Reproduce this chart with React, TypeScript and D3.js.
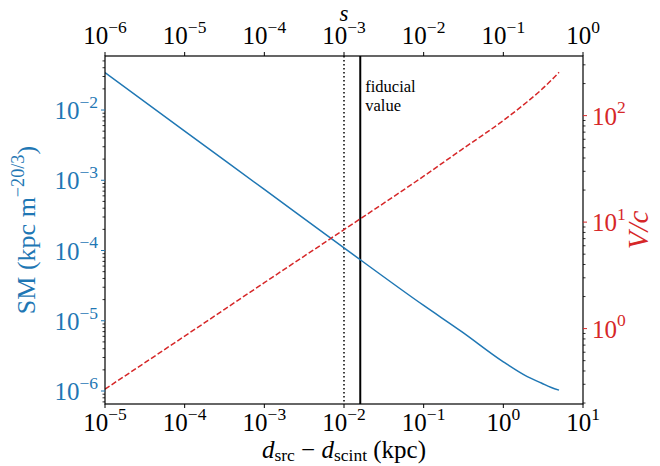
import React from 'react';
import * as d3 from 'd3';

const distances = [1e-5, 1e-4, 1e-3, 1e-2, 1e-1, 0.3, 1, 2, 3, 4, 5];
const smValues = [3.4e-2, 5.0e-3, 7.4e-4, 1.09e-4, 1.65e-5, 7.0e-6, 2.6e-6, 1.6e-6, 1.3e-6, 1.12e-6, 1.03e-6];
const velocityValues = [0.27, 0.85, 2.7, 8.5, 27, 48, 90, 135, 175, 215, 255];

const bottomExps = [-5, -4, -3, -2, -1, 0, 1];
const topExps = [-6, -5, -4, -3, -2, -1, 0];
const leftExps = [-6, -5, -4, -3, -2];
const rightExps = [0, 1, 2];

const dottedDistance = 0.01;
const fiducialDistance = 0.016;

const BLUE = '#1f77b4';
const RED = '#d62728';
const FONT = '"Liberation Serif", "DejaVu Serif", serif';

const W = 660;
const H = 466;
const margin = { left: 105, right: 77, top: 56, bottom: 62 };

const fmtExp = (e: number) => (e < 0 ? `\u2212${-e}` : `${e}`);

const Pow = ({ x, y, exp, anchor, fill, size }: any) => (
  <text x={x} y={y} textAnchor={anchor} fill={fill} fontSize={size} fontFamily={FONT}>
    10
    <tspan dy={-size * 0.45} fontSize={size * 0.7}>
      {fmtExp(exp)}
    </tspan>
  </text>
);

const minorValues = (domain: number[]) => {
  const out: number[] = [];
  const lo = Math.floor(Math.log10(domain[0]));
  const hi = Math.ceil(Math.log10(domain[1]));
  for (let k = lo; k <= hi; k++) {
    for (let m = 2; m <= 9; m++) {
      const v = m * Math.pow(10, k);
      if (v >= domain[0] && v <= domain[1]) out.push(v);
    }
  }
  return out;
};

const App = () => {
  const x0 = margin.left;
  const x1 = W - margin.right;
  const y0 = margin.top;
  const y1 = H - margin.bottom;

  const x = d3.scaleLog().domain([1e-5, 10]).range([x0, x1]);
  const xTop = d3.scaleLog().domain([1e-6, 1]).range([x0, x1]);
  const leftDomain = [Math.pow(10, -6.185), Math.pow(10, -1.231)];
  const rightDomain = [Math.pow(10, -0.708), Math.pow(10, 2.56)];
  const yLeft = d3.scaleLog().domain(leftDomain).range([y1, y0]);
  const yRight = d3.scaleLog().domain(rightDomain).range([y1, y0]);

  const smLine = d3
    .line<number>()
    .x((d, i) => x(distances[i]))
    .y((d) => yLeft(d))
    .curve(d3.curveMonotoneX);
  const vLine = d3
    .line<number>()
    .x((d, i) => x(distances[i]))
    .y((d) => yRight(d))
    .curve(d3.curveMonotoneX);

  const fs = 25; // tick labels
  const ls = 26; // y axis labels
  const major = 4;
  const minor = 2.5;
  const fx = x(fiducialDistance) + 5;

  return (
    <div style={{ position: 'absolute', left: 0, top: 0 }}>
      <svg width={W} height={H} style={{ display: 'block', background: '#fff' }}>
        <defs>
          <clipPath id="plot-clip">
            <rect x={x0} y={y0} width={x1 - x0} height={y1 - y0} />
          </clipPath>
        </defs>

        {/* vertical markers */}
        <line x1={x(dottedDistance)} x2={x(dottedDistance)} y1={y0} y2={y1} stroke="#000" strokeWidth={1.5} strokeDasharray="1.5,2.5" />
        <line x1={x(fiducialDistance)} x2={x(fiducialDistance)} y1={y0} y2={y1} stroke="#000" strokeWidth={2} />
        <text x={fx} y={92} fontSize={16.5} fontFamily={FONT} fill="#000">
          fiducial
        </text>
        <text x={fx} y={111} fontSize={16.5} fontFamily={FONT} fill="#000">
          value
        </text>

        <g clipPath="url(#plot-clip)">
          <path d={smLine(smValues) || ''} fill="none" stroke={BLUE} strokeWidth={1.5} />
          <path d={vLine(velocityValues) || ''} fill="none" stroke={RED} strokeWidth={1.5} strokeDasharray="5.5,2.4" />
        </g>

        {/* frame */}
        <rect x={x0} y={y0} width={x1 - x0} height={y1 - y0} fill="none" stroke="#000" strokeWidth={1.2} />

        {/* bottom axis */}
        {bottomExps.map((e) => {
          const px = x(Math.pow(10, e));
          return (
            <g key={'b' + e}>
              <line x1={px} x2={px} y1={y1} y2={y1 + major} stroke="#000" strokeWidth={1} />
              <Pow x={px} y={y1 + 27} exp={e} anchor="middle" fill="#000" size={fs} />
            </g>
          );
        })}
        <text x={(x0 + x1) / 2} y={458} textAnchor="middle" fontSize={25} fontFamily={FONT} fill="#000">
          <tspan fontStyle="italic">d</tspan>
          <tspan fontSize={25 * 0.7} dy={3}>src</tspan>
          <tspan dy={-3}>{' \u2212 '}</tspan>
          <tspan fontStyle="italic">d</tspan>
          <tspan fontSize={25 * 0.7} dy={3}>scint</tspan>
          <tspan dy={-3}>{' (kpc)'}</tspan>
        </text>

        {/* top axis */}
        {topExps.map((e) => {
          const px = xTop(Math.pow(10, e));
          return (
            <g key={'t' + e}>
              <line x1={px} x2={px} y1={y0} y2={y0 - major} stroke="#000" strokeWidth={1} />
              <Pow x={px} y={y0 - 12} exp={e} anchor="middle" fill="#000" size={fs} />
            </g>
          );
        })}
        <text x={(x0 + x1) / 2} y={21} textAnchor="middle" fontSize={23} fontStyle="italic" fontFamily={FONT} fill="#000">
          s
        </text>

        {/* left axis */}
        {minorValues(leftDomain).map((v, i) => (
          <line key={'lm' + i} x1={x0} x2={x0 - minor} y1={yLeft(v)} y2={yLeft(v)} stroke="#000" strokeWidth={0.8} />
        ))}
        {leftExps.map((e) => {
          const py = yLeft(Math.pow(10, e));
          return (
            <g key={'l' + e}>
              <line x1={x0} x2={x0 - major} y1={py} y2={py} stroke={BLUE} strokeWidth={1} />
              <Pow x={x0 - 7} y={py + 9} exp={e} anchor="end" fill={BLUE} size={fs} />
            </g>
          );
        })}
        <text
          transform={`translate(35, ${(y0 + y1) / 2}) rotate(-90)`}
          textAnchor="middle"
          fontSize={ls}
          fontFamily={FONT}
          fill={BLUE}
        >
          SM (kpc m
          <tspan dy={-11} fontSize={ls * 0.7}>
            {'\u221220/3'}
          </tspan>
          <tspan dy={11}>)</tspan>
        </text>

        {/* right axis */}
        {minorValues(rightDomain).map((v, i) => (
          <line key={'rm' + i} x1={x1} x2={x1 + minor} y1={yRight(v)} y2={yRight(v)} stroke="#000" strokeWidth={0.8} />
        ))}
        {rightExps.map((e) => {
          const py = yRight(Math.pow(10, e));
          return (
            <g key={'r' + e}>
              <line x1={x1} x2={x1 + major} y1={py} y2={py} stroke={RED} strokeWidth={1} />
              <Pow x={x1 + 9} y={py + 9} exp={e} anchor="start" fill={RED} size={fs} />
            </g>
          );
        })}
        <text
          transform={`translate(648, ${(y0 + y1) / 2}) rotate(-90)`}
          textAnchor="middle"
          fontSize={29}
          fontFamily={FONT}
          fontStyle="italic"
          fill={RED}
        >
          V/c
        </text>
      </svg>
    </div>
  );
};

export default App;
